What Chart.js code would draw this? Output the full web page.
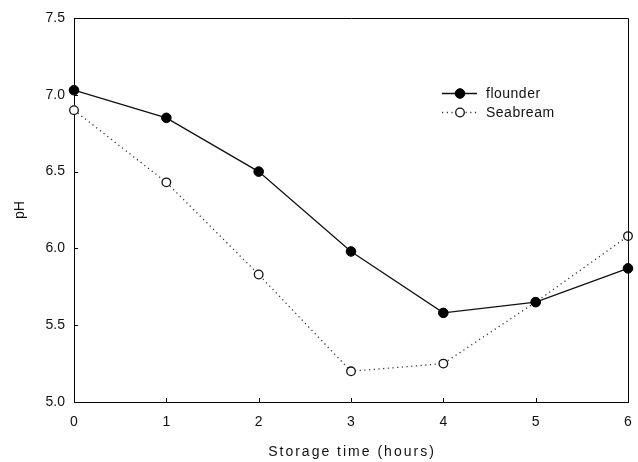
<!DOCTYPE html>
<html>
<head>
<meta charset="utf-8">
<script src="https://cdn.jsdelivr.net/npm/chart.js@4/dist/chart.umd.min.js"></script>
<style>
html,body{margin:0;padding:0;background:#fff;}
#wrap{width:638px;height:462px;}
</style>
</head>
<body>
<div id="wrap"><canvas id="c" width="638" height="462"></canvas></div>
<script>
const hours = [0, 1, 2, 3, 4, 5, 6];
const flounder = [7.03, 6.85, 6.50, 5.98, 5.58, 5.65, 5.87];
const seabream = [6.90, 6.43, 5.83, 5.20, 5.25, 5.65, 6.08];
const yTicks = [5.0, 5.5, 6.0, 6.5, 7.0, 7.5];
const xTicks = [0, 1, 2, 3, 4, 5, 6];
const seriesNames = ['flounder', 'Seabream'];
const xTitle = 'Storage time (hours)';
const yTitle = 'pH';

const FONT = '"Liberation Sans", Arial, sans-serif';

const framePlugin = {
  id: 'frame',
  afterDraw(chart) {
    const ctx = chart.ctx, a = chart.chartArea;
    const xs = chart.scales.x, ys = chart.scales.y;
    ctx.save();
    ctx.strokeStyle = '#000';
    ctx.lineWidth = 1;
    ctx.beginPath();
    ctx.moveTo(a.left + 0.5, a.top + 0.5);
    ctx.lineTo(a.right + 0.5, a.top + 0.5);
    ctx.lineTo(a.right + 0.5, a.bottom + 0.5);
    ctx.stroke();
    // inward ticks
    ctx.beginPath();
    yTicks.forEach(v => {
      const y = Math.round(ys.getPixelForValue(v)) + 0.5;
      ctx.moveTo(a.left, y); ctx.lineTo(a.left + 4, y);
    });
    xTicks.forEach(v => {
      const x = Math.round(xs.getPixelForValue(v)) + 0.5;
      ctx.moveTo(x, a.bottom); ctx.lineTo(x, a.bottom - 4);
    });
    ctx.stroke();
    // legend
    const items = chart.data.datasets;
    const lx0 = 442, lx1 = 477, mx = 460, tx = 486;
    const ly = [93, 112];
    items.forEach((ds, i) => {
      ctx.save();
      ctx.strokeStyle = ds.borderColor;
      ctx.lineWidth = ds.borderWidth;
      ctx.setLineDash(ds.borderDash || []);
      ctx.beginPath();
      ctx.moveTo(lx0, ly[i] + 0.5); ctx.lineTo(lx1, ly[i] + 0.5);
      ctx.stroke();
      ctx.setLineDash([]);
      ctx.beginPath();
      ctx.arc(mx, ly[i] + 0.5, ds.pointRadius, 0, Math.PI * 2);
      ctx.fillStyle = ds.pointBackgroundColor;
      ctx.fill();
      ctx.strokeStyle = ds.pointBorderColor;
      ctx.lineWidth = ds.pointBorderWidth;
      ctx.stroke();
      ctx.fillStyle = '#111';
      ctx.font = '14px ' + FONT;
      ctx.textBaseline = 'middle';
      ctx.textAlign = 'left';
      ctx.letterSpacing = '0.5px';
      ctx.fillText(ds.label, tx, ly[i] + 1);
      ctx.restore();
    });
    // x title with letter spacing
    ctx.fillStyle = '#111';
    ctx.font = '14px ' + FONT;
    ctx.textAlign = 'center';
    ctx.textBaseline = 'middle';
    ctx.letterSpacing = '2px';
    ctx.fillText(xTitle, (a.left + a.right) / 2 + 1, 452);
    ctx.letterSpacing = '0px';
    ctx.translate(20, 210);
    ctx.rotate(-Math.PI / 2);
    ctx.fillText(yTitle, 0, 0);
    ctx.restore();
  }
};

new Chart(document.getElementById('c'), {
  type: 'line',
  data: {
    datasets: [
      {
        label: seriesNames[0],
        data: hours.map((h, i) => ({x: h, y: flounder[i]})),
        borderColor: '#111',
        borderWidth: 1.3,
        pointRadius: 4.8,
        pointBackgroundColor: '#000',
        pointBorderColor: '#000',
        pointBorderWidth: 1,
        clip: false,
        tension: 0
      },
      {
        label: seriesNames[1],
        data: hours.map((h, i) => ({x: h, y: seabream[i]})),
        borderColor: '#333',
        borderWidth: 1.3,
        borderDash: [1.2, 3.5],
        pointRadius: 4.3,
        pointBackgroundColor: '#fff',
        pointBorderColor: '#111',
        pointBorderWidth: 1.3,
        clip: false,
        tension: 0
      }
    ]
  },
  plugins: [framePlugin],
  options: {
    responsive: false,
    animation: false,
    devicePixelRatio: 1,
    layout: {padding: {top: 18, right: 10, left: 0, bottom: 0}},
    plugins: {legend: {display: false}, tooltip: {enabled: false}},
    scales: {
      x: {
        type: 'linear',
        min: 0, max: 6,
        afterFit(s) { s.height = 60; s.paddingLeft = 0; s.paddingRight = 0; },
        afterBuildTicks(s) { s.ticks = xTicks.map(v => ({value: v})); },
        grid: {display: false, drawTicks: false},
        border: {display: true, color: '#000', width: 1},
        ticks: {color: '#111', font: {family: FONT, size: 14}, padding: 12}
      },
      y: {
        min: 5.0, max: 7.5,
        afterFit(s) { s.width = 74; s.paddingTop = 0; s.paddingBottom = 0; },
        afterBuildTicks(s) { s.ticks = yTicks.map(v => ({value: v})); },
        grid: {display: false, drawTicks: false},
        border: {display: true, color: '#000', width: 1},
        ticks: {color: '#111', font: {family: FONT, size: 14}, padding: 9,
          callback: v => Number(v).toFixed(1)}
      }
    }
  }
});
</script>
</body>
</html>
